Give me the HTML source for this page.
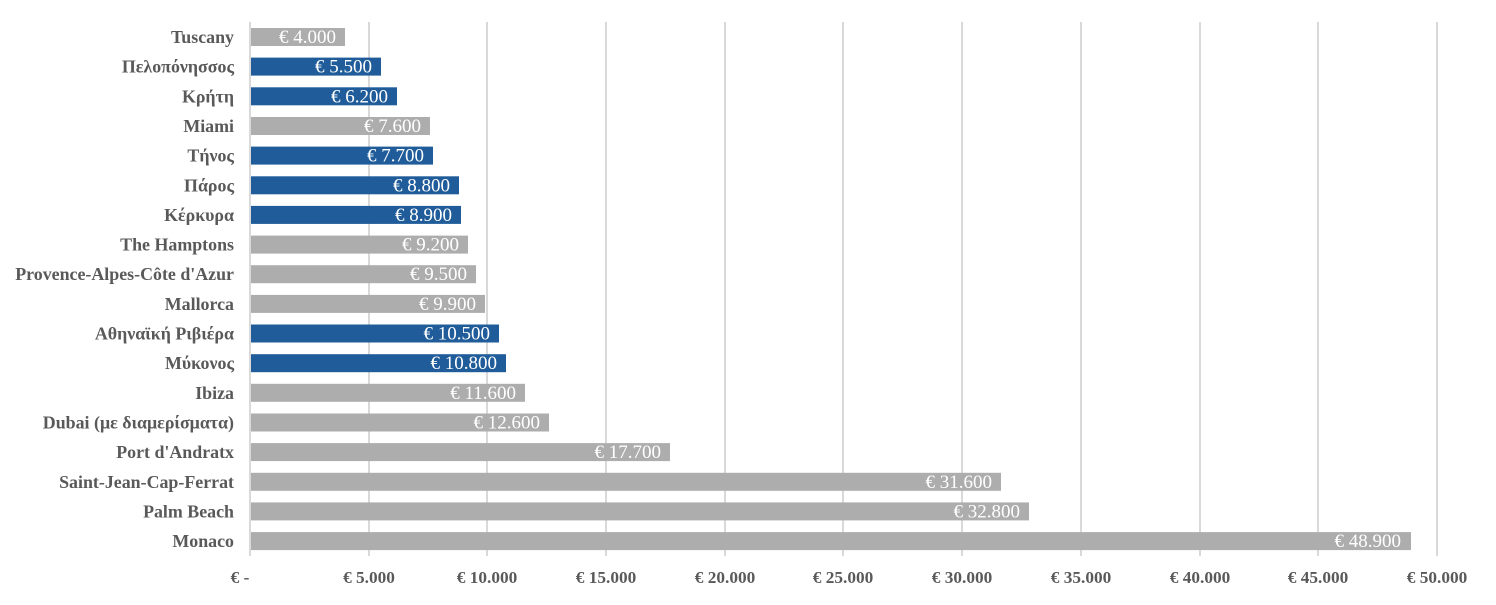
<!DOCTYPE html>
<html><head><meta charset="utf-8"><style>
body{margin:0;background:#fff;width:1496px;height:600px;overflow:hidden}
svg text{font-family:"Liberation Serif",serif;font-weight:bold}
.c{fill:#595959;text-anchor:end;font-size:17.9px}
.v{fill:#fff;text-anchor:end;font-size:19px;font-weight:normal!important}
.t{fill:#595959;text-anchor:middle;font-size:17.3px}
</style></head><body>
<svg width="1496" height="600" xmlns="http://www.w3.org/2000/svg">
<g stroke="#d9d9d9" stroke-width="2">
<line x1="250" y1="22" x2="250" y2="556"/><line x1="369" y1="22" x2="369" y2="556"/><line x1="487" y1="22" x2="487" y2="556"/><line x1="606" y1="22" x2="606" y2="556"/><line x1="725" y1="22" x2="725" y2="556"/><line x1="843" y1="22" x2="843" y2="556"/><line x1="962" y1="22" x2="962" y2="556"/><line x1="1081" y1="22" x2="1081" y2="556"/><line x1="1200" y1="22" x2="1200" y2="556"/><line x1="1318" y1="22" x2="1318" y2="556"/><line x1="1437" y1="22" x2="1437" y2="556"/>
</g>
<g>
<text class="t" x="240" y="583">€ -</text><text class="t" x="369" y="583">€ 5.000</text><text class="t" x="487" y="583">€ 10.000</text><text class="t" x="606" y="583">€ 15.000</text><text class="t" x="725" y="583">€ 20.000</text><text class="t" x="843" y="583">€ 25.000</text><text class="t" x="962" y="583">€ 30.000</text><text class="t" x="1081" y="583">€ 35.000</text><text class="t" x="1200" y="583">€ 40.000</text><text class="t" x="1318" y="583">€ 45.000</text><text class="t" x="1437" y="583">€ 50.000</text>
</g>
<g>
<rect x="251" y="28" width="94" height="18" fill="#adadad"/><text class="c" x="234" y="43">Tuscany</text><text class="v" x="336" y="43">€ 4.000</text>
<rect x="251" y="57.6" width="130" height="18" fill="#1f5c99"/><text class="c" x="234" y="72.6">Πελοπόνησσος</text><text class="v" x="372" y="72.6">€ 5.500</text>
<rect x="251" y="87.3" width="146" height="18" fill="#1f5c99"/><text class="c" x="234" y="102.3">Κρήτη</text><text class="v" x="388" y="102.3">€ 6.200</text>
<rect x="251" y="117" width="179" height="18" fill="#adadad"/><text class="c" x="234" y="132">Miami</text><text class="v" x="421" y="132">€ 7.600</text>
<rect x="251" y="146.6" width="182" height="18" fill="#1f5c99"/><text class="c" x="234" y="161.6">Τήνος</text><text class="v" x="424" y="161.6">€ 7.700</text>
<rect x="251" y="176.3" width="208" height="18" fill="#1f5c99"/><text class="c" x="234" y="191.3">Πάρος</text><text class="v" x="450" y="191.3">€ 8.800</text>
<rect x="251" y="205.9" width="210" height="18" fill="#1f5c99"/><text class="c" x="234" y="220.9">Κέρκυρα</text><text class="v" x="452" y="220.9">€ 8.900</text>
<rect x="251" y="235.6" width="217" height="18" fill="#adadad"/><text class="c" x="234" y="250.6">The Hamptons</text><text class="v" x="459" y="250.6">€ 9.200</text>
<rect x="251" y="265.2" width="225" height="18" fill="#adadad"/><text class="c" x="234" y="280.2">Provence-Alpes-Côte d'Azur</text><text class="v" x="467" y="280.2">€ 9.500</text>
<rect x="251" y="294.9" width="234" height="18" fill="#adadad"/><text class="c" x="234" y="309.9">Mallorca</text><text class="v" x="476" y="309.9">€ 9.900</text>
<rect x="251" y="324.5" width="248" height="18" fill="#1f5c99"/><text class="c" x="234" y="339.5">Αθηναϊκή Ριβιέρα</text><text class="v" x="490" y="339.5">€ 10.500</text>
<rect x="251" y="354.2" width="255" height="18" fill="#1f5c99"/><text class="c" x="234" y="369.2">Μύκονος</text><text class="v" x="497" y="369.2">€ 10.800</text>
<rect x="251" y="383.8" width="274" height="18" fill="#adadad"/><text class="c" x="234" y="398.8">Ibiza</text><text class="v" x="516" y="398.8">€ 11.600</text>
<rect x="251" y="413.5" width="298" height="18" fill="#adadad"/><text class="c" x="234" y="428.5">Dubai (με διαμερίσματα)</text><text class="v" x="540" y="428.5">€ 12.600</text>
<rect x="251" y="443.1" width="419" height="18" fill="#adadad"/><text class="c" x="234" y="458.1">Port d'Andratx</text><text class="v" x="661" y="458.1">€ 17.700</text>
<rect x="251" y="472.8" width="750" height="18" fill="#adadad"/><text class="c" x="234" y="487.8">Saint-Jean-Cap-Ferrat</text><text class="v" x="992" y="487.8">€ 31.600</text>
<rect x="251" y="502.4" width="778" height="18" fill="#adadad"/><text class="c" x="234" y="517.4">Palm Beach</text><text class="v" x="1020" y="517.4">€ 32.800</text>
<rect x="251" y="532.1" width="1160" height="18" fill="#adadad"/><text class="c" x="234" y="547.1">Monaco</text><text class="v" x="1401" y="547.1">€ 48.900</text>
</g>
</svg>
</body></html>
